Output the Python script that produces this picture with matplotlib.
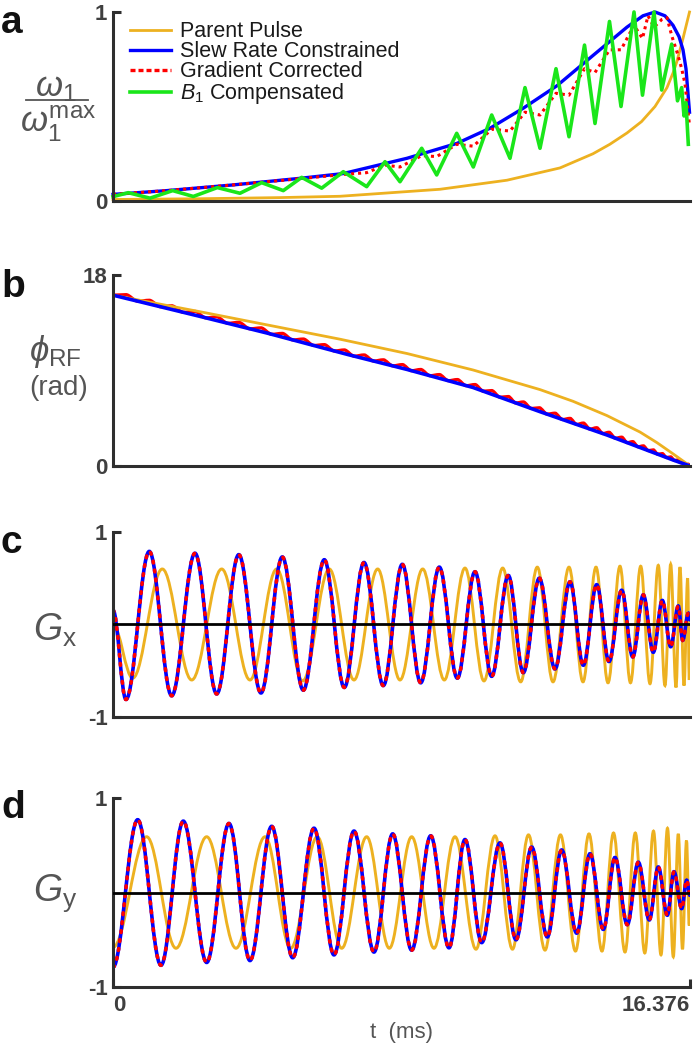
import matplotlib
matplotlib.use("Agg")
import matplotlib.pyplot as plt
from matplotlib.path import Path
from matplotlib.patches import PathPatch
from matplotlib.lines import Line2D

plt.rcParams['font.family'] = ['Liberation Sans', 'DejaVu Sans']
plt.rcParams['mathtext.fontset'] = 'custom'
plt.rcParams['mathtext.rm'] = 'Liberation Sans'
plt.rcParams['mathtext.it'] = 'Liberation Sans:italic'
plt.rcParams['mathtext.bf'] = 'Liberation Sans:bold'

T_END = 16.376

# %% data (time in ms)
# a) normalised RF amplitude
a_orange_t = [0, 2.469, 4.740, 6.442, 9.281, 11.182, 12.686, 13.623, 14.1, 14.588, 15.0, 15.383, 15.723,
              15.9, 16.007, 16.177, 16.362]
a_orange_v = [0.008, 0.012, 0.018, 0.025, 0.062, 0.11, 0.175, 0.25, 0.30, 0.36, 0.42, 0.50, 0.60,
              0.68, 0.74, 0.86, 1.0]

a_blue_t = [0, 1.533, 3.406, 5.307, 6.528, 8.344, 9.763, 10.700, 11.636, 12.601, 13.623, 14.588, 15.042,
            15.383, 15.666, 15.893, 16.064, 16.177, 16.262, 16.362]
a_blue_v = [0.035, 0.055, 0.085, 0.12, 0.145, 0.226, 0.305, 0.385, 0.49, 0.61, 0.77, 0.92, 0.98,
            1.0, 0.98, 0.93, 0.87, 0.80, 0.70, 0.47]

a_red_t = [0, 1.533, 3.406, 5.307, 6.528, 7.200, 7.720, 8.145, 8.761, 9.187, 9.755, 10.226, 10.748, 11.267,
           11.693, 12.119, 12.573, 12.942, 13.382, 13.680, 14.091, 14.418, 14.787, 15.028, 15.184, 15.354,
           15.573, 15.723, 15.865, 16.021, 16.140, 16.234, 16.362]
a_red_v = [0.035, 0.055, 0.085, 0.118, 0.14, 0.15, 0.19, 0.18, 0.24, 0.235, 0.30, 0.29, 0.38, 0.37,
           0.47, 0.455, 0.57, 0.56, 0.70, 0.68, 0.80, 0.80, 0.93, 0.86, 0.98, 0.92,
           0.96, 0.97, 0.87, 0.78, 0.70, 0.62, 0.40]

a_green_t = [0, 0.434, 1.050, 1.694, 2.279, 2.960, 3.604, 4.220, 4.833, 5.356, 5.923, 6.536, 7.200, 7.720,
             8.145, 8.761, 9.187, 9.755, 10.226, 10.748, 11.267, 11.693, 12.119, 12.573, 12.942, 13.382,
             13.680, 14.091, 14.418, 14.787, 15.028, 15.354, 15.573, 15.856, 16.021, 16.140, 16.206,
             16.262, 16.328]
a_green_v = [0.023, 0.044, 0.015, 0.055, 0.024, 0.071, 0.041, 0.097, 0.055, 0.125, 0.068, 0.155, 0.076, 0.208,
             0.102, 0.279, 0.138, 0.358, 0.18, 0.455, 0.226, 0.60, 0.279, 0.70, 0.34, 0.825,
             0.41, 0.95, 0.50, 1.0, 0.56, 1.0, 0.587, 0.83, 0.53, 0.60, 0.45,
             0.52, 0.30]

# b) RF phase (rad)
b_orange_t = [0, 2.469, 4.371, 6.442, 8.344, 10.217, 12.119, 13.055, 14.020, 14.957, 15.439, 15.893, 16.376]
b_orange_v = [16.1, 14.54, 13.3, 11.95, 10.6, 9.05, 7.2, 6.1, 4.75, 3.2, 2.2, 1.15, 0.0]

b_blue_t = [0, 2.469, 4.371, 6.670, 8.344, 10.217, 12.119, 14.020, 15.893, 16.376]
b_blue_v = [16.1, 14.1, 12.53, 10.5, 9.1, 7.4, 5.12, 2.92, 0.57, 0.0]

b_red_t = [0, 0.369, 0.70, 1.030, 1.348, 1.666, 1.997, 2.327, 2.635, 2.943, 3.257, 3.570, 3.885, 4.200,
           4.503, 4.805, 5.103, 5.401, 5.699, 5.997, 6.281, 6.565, 6.845, 7.124, 7.398, 7.671, 7.941,
           8.211, 8.472, 8.733, 8.997, 9.261, 9.517, 9.772, 10.023, 10.274, 10.511, 10.748, 10.984,
           11.219, 11.432, 11.645, 11.872, 12.099, 12.322, 12.544, 12.757, 12.970, 13.159, 13.348,
           13.538, 13.728, 13.903, 14.077, 14.257, 14.437, 14.594, 14.750, 14.901, 15.051, 15.193,
           15.334, 15.462, 15.590, 15.709, 15.828, 15.936, 16.044, 16.107, 16.169, 16.249, 16.328, 16.376]
b_red_v = [16.1, 16.15, 15.53, 15.62, 15.01, 15.10, 14.48, 14.57, 13.96, 14.06, 13.45, 13.54, 12.93, 13.02,
           12.41, 12.50, 11.88, 11.97, 11.36, 11.44, 10.84, 10.94, 10.35, 10.47, 9.89, 10.01, 9.44,
           9.56, 8.98, 9.10, 8.51, 8.62, 8.04, 8.15, 7.57, 7.68, 7.05, 7.11, 6.48,
           6.55, 5.94, 6.04, 5.42, 5.49, 4.89, 4.98, 4.38, 4.49, 3.92, 4.05,
           3.48, 3.61, 3.06, 3.18, 2.62, 2.72, 2.20, 2.30, 1.81, 1.90, 1.45,
           1.52, 1.11, 1.17, 0.80, 0.86, 0.52, 0.58, 0.32, 0.37, 0.15, 0.17, 0.0]

# c) Gx : extrema of the waveforms
c_orange_t = [0, 0.559, 1.399, 2.234, 3.085, 3.888, 4.646, 5.384, 6.139, 6.840, 7.512, 8.145, 8.790, 9.403,
              9.990, 10.529, 11.060, 11.571, 12.042, 12.488, 12.942, 13.339, 13.708, 14.049, 14.389, 14.687,
              14.977, 15.241, 15.476, 15.666, 15.828, 15.979, 16.092, 16.206, 16.310, 16.356, 16.376]
c_orange_v = [0.0, -0.58, 0.60, -0.60, 0.60, -0.60, 0.60, -0.61, 0.60, -0.60, 0.60, -0.60, 0.60, -0.60,
              0.61, -0.61, 0.61, -0.62, 0.62, -0.62, 0.62, -0.62, 0.62, -0.63, 0.63, -0.63,
              0.63, -0.64, 0.64, -0.66, 0.65, -0.68, 0.62, -0.66, 0.5, -0.6, 0.0]

c_blue_t = [0, 0.369, 1.030, 1.666, 2.327, 2.943, 3.570, 4.200, 4.805, 5.401, 5.997, 6.565, 7.124, 7.671,
            8.211, 8.733, 9.261, 9.772, 10.274, 10.748, 11.219, 11.645, 12.099, 12.544, 12.970, 13.348,
            13.728, 14.077, 14.437, 14.750, 15.051, 15.334, 15.590, 15.828, 16.044, 16.169, 16.328, 16.376]
c_blue_v = [0.155, -0.81, 0.79, -0.77, 0.77, -0.75, 0.755, -0.74, 0.73, -0.71, 0.70, -0.68, 0.67, -0.66,
            0.65, -0.63, 0.62, -0.58, 0.57, -0.56, 0.53, -0.52, 0.50, -0.48, 0.46, -0.44,
            0.43, -0.40, 0.37, -0.35, 0.32, -0.30, 0.26, -0.24, 0.20, -0.17, 0.12, 0.05]

# d) Gy
d_orange_t = [0, 0.956, 1.788, 2.659, 3.491, 4.314, 5.043, 5.798, 6.491, 7.200, 7.842, 8.477, 9.110, 9.706,
              10.302, 10.842, 11.338, 11.792, 12.261, 12.700, 13.126, 13.509, 13.878, 14.205, 14.531,
              14.824, 15.093, 15.340, 15.553, 15.737, 15.902, 16.044, 16.163, 16.277, 16.356, 16.376]
d_orange_v = [-0.58, 0.59, -0.59, 0.59, -0.59, 0.59, -0.59, 0.59, -0.59, 0.59, -0.59, 0.59, -0.59, 0.59,
              -0.60, 0.60, -0.60, 0.61, -0.61, 0.61, -0.62, 0.62, -0.62, 0.63, -0.63,
              0.63, -0.64, 0.65, -0.66, 0.68, -0.68, 0.62, -0.60, 0.55, -0.35, 0.0]

d_blue_t = [0, 0.701, 1.362, 1.995, 2.659, 3.292, 3.888, 4.504, 5.100, 5.705, 6.272, 6.840, 7.407, 7.938,
            8.477, 9.017, 9.536, 9.990, 10.464, 10.983, 11.438, 11.883, 12.326, 12.734, 13.160, 13.538,
            13.915, 14.247, 14.596, 14.909, 15.221, 15.476, 15.732, 15.922, 16.140, 16.282, 16.376]
d_blue_v = [-0.79, 0.77, -0.77, 0.755, -0.74, 0.73, -0.72, 0.70, -0.69, 0.68, -0.66, 0.65, -0.63, 0.62,
            -0.61, 0.60, -0.585, 0.56, -0.53, 0.525, -0.50, 0.48, -0.47, 0.45, -0.43, 0.41,
            -0.39, 0.37, -0.34, 0.32, -0.29, 0.27, -0.24, 0.22, -0.17, 0.13, -0.03]

labels = ['Parent Pulse', 'Slew Rate Constrained', 'Gradient Corrected', r'$B_1$ Compensated']

ORANGE = '#EDB120'
BLUE = '#0000FF'
RED = '#FF0000'
GREEN = '#1AE61A'
AXIS = '#2e2e2e'
TICK = '#3f3f3f'
LABEL = '#555555'
DASH = (0, (0.5, 2.0))


def wave(ax, t, v, k=0.364, **kw):
    """smooth curve through successive extrema (flat tangent at each one)"""
    verts = [(t[0], v[0])]
    codes = [Path.MOVETO]
    for i in range(1, len(t)):
        d = (t[i] - t[i - 1]) * k
        verts += [(t[i - 1] + d, v[i - 1]), (t[i] - d, v[i]), (t[i], v[i])]
        codes += [Path.CURVE4] * 3
    ax.add_patch(PathPatch(Path(verts, codes), fill=False, capstyle='round', **kw))


W, H = 696, 1050


def box(top, bottom):
    return [113 / W, 1 - bottom / H, 577 / W, (bottom - top) / H]


def style(ax, ylim, yticks, ylabels):
    ax.set_xlim(0, T_END)
    ax.set_ylim(*ylim)
    for s in ['top', 'right']:
        ax.spines[s].set_visible(False)
    for s in ['left', 'bottom']:
        ax.spines[s].set_linewidth(2.2)
        ax.spines[s].set_color(AXIS)
    ax.set_yticks(yticks, ylabels)
    ax.set_xticks([])
    ax.tick_params(direction='in', length=6, width=2.2, color=AXIS, labelsize=16,
                   labelcolor=TICK, pad=4)
    for lb in ax.get_yticklabels():
        lb.set_fontweight('bold')


fig = plt.figure(figsize=(W / 100, H / 100), dpi=100)
ax_a = fig.add_axes(box(12, 201))
ax_b = fig.add_axes(box(275, 466))
ax_c = fig.add_axes(box(532, 717))
ax_d = fig.add_axes(box(798, 987))

# %% a
ax_a.plot(a_orange_t, a_orange_v, color=ORANGE, lw=2.0, clip_on=False)
ax_a.plot(a_blue_t, a_blue_v, color=BLUE, lw=2.4, clip_on=False)
ax_a.plot(a_red_t, a_red_v, color=RED, lw=2.2, ls=(0, (1, 1.3)), clip_on=False)
ax_a.plot(a_green_t, a_green_v, color=GREEN, lw=2.6, clip_on=False, solid_joinstyle='round')
style(ax_a, (0, 1), [0, 1], ['0', '1'])
handles = [Line2D([], [], color=ORANGE, lw=2.0), Line2D([], [], color=BLUE, lw=2.4),
           Line2D([], [], color=RED, lw=2.4, ls=(0, (1.5, 0.9))), Line2D([], [], color=GREEN, lw=2.6)]
ax_a.legend(handles, labels, loc='upper left', bbox_to_anchor=(0.03, 0.95), frameon=False,
            fontsize=15.5, handlelength=1.9, handletextpad=0.4, labelspacing=-0.05,
            borderpad=0, borderaxespad=0, labelcolor='#1a1a1a')

# %% b
ax_b.plot(b_orange_t, b_orange_v, color=ORANGE, lw=2.0)
ax_b.plot(b_blue_t, b_blue_v, color=BLUE, lw=2.6)
wave(ax_b, b_red_t, b_red_v, k=0.3, edgecolor=RED, lw=2.3)
style(ax_b, (0, 18), [0, 18], ['0', '18'])

# %% c, d
for ax, ot, ov, bt, bv in [(ax_c, c_orange_t, c_orange_v, c_blue_t, c_blue_v),
                           (ax_d, d_orange_t, d_orange_v, d_blue_t, d_blue_v)]:
    wave(ax, ot, ov, edgecolor=ORANGE, lw=2.1)
    wave(ax, bt, bv, edgecolor=BLUE, lw=2.6)
    wave(ax, bt, bv, edgecolor=RED, lw=2.6, linestyle=DASH)
    ax.axhline(0, color='black', lw=2.0, zorder=5)
    style(ax, (-1, 1), [-1, 1], ['-1', '1'])

ax_d.set_xticks([0, T_END], ['0', '16.376'])
ax_d.tick_params(axis='x', pad=6)
xl = ax_d.get_xticklabels()
xl[0].set_ha('left')
xl[1].set_ha('right')
for lb in xl:
    lb.set_fontweight('bold')
ax_d.set_xlabel('t  (ms)', fontsize=16, color=LABEL, labelpad=4)


# %% labels
def fx(x):
    return x / W


def fy(y):
    return 1 - y / H


fig.text(fx(56), fy(88), r'$\omega_1$', ha='center', va='center', fontsize=25, color=LABEL)
fig.add_artist(Line2D([fx(26), fx(88)], [fy(100), fy(100)], color=LABEL, lw=1.3))
fig.text(fx(58), fy(124), r'$\omega_1^{\mathrm{max}}$', ha='center', va='center', fontsize=25, color=LABEL)
fig.text(fx(55), fy(352), r'$\phi_{\mathrm{RF}}$', ha='center', va='center', fontsize=25, color=LABEL)
fig.text(fx(59), fy(388), '(rad)', ha='center', va='center', fontsize=20, color=LABEL)
fig.text(fx(55), fy(630), r'$G_{\mathrm{x}}$', ha='center', va='center', fontsize=27, color=LABEL)
fig.text(fx(55), fy(893), r'$G_{\mathrm{y}}$', ha='center', va='center', fontsize=27, color=LABEL)

for letter, base in [('a', 33), ('b', 297), ('c', 553), ('d', 818)]:
    fig.text(fx(1), fy(base), letter, ha='left', va='baseline', fontsize=28, fontweight='bold', color='#111111')

fig.savefig('out.png', dpi=100)
